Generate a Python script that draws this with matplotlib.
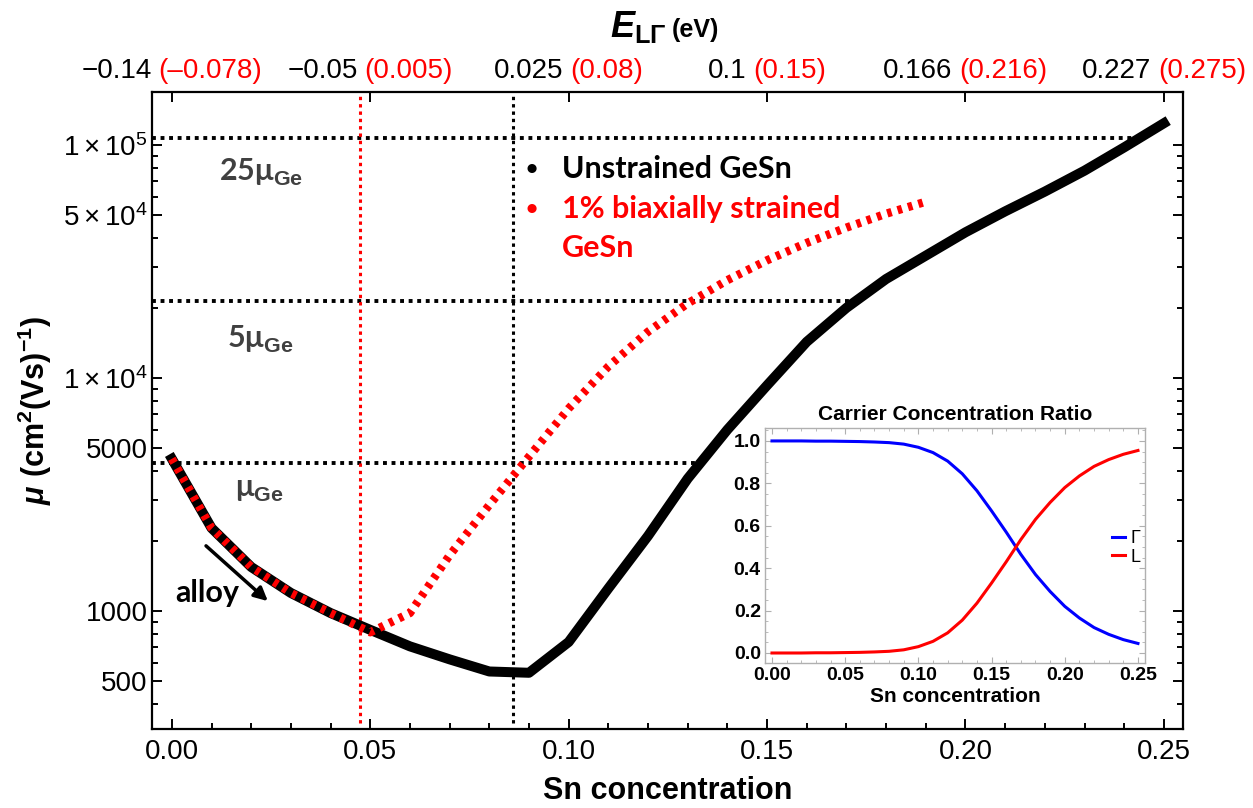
import numpy as np
import matplotlib
matplotlib.use('Agg')
import matplotlib.pyplot as plt
from matplotlib.offsetbox import AnnotationBbox, HPacker, TextArea
from matplotlib.ticker import FixedLocator, LogLocator, NullFormatter, MultipleLocator, FormatStrFormatter

plt.rcParams['font.family'] = ['Liberation Sans', 'DejaVu Sans']
plt.rcParams['mathtext.fontset'] = 'custom'
plt.rcParams['mathtext.rm'] = 'Liberation Sans'
plt.rcParams['mathtext.it'] = 'Liberation Sans:italic:bold'
plt.rcParams['mathtext.bf'] = 'Liberation Sans:bold'

# Sn concentration grid (main curves)
x_sn = [0.00, 0.01, 0.02, 0.03, 0.04, 0.05, 0.06, 0.07, 0.08, 0.09, 0.10, 0.11, 0.12,
        0.13, 0.14, 0.15, 0.16, 0.17, 0.18, 0.19, 0.20, 0.21, 0.22, 0.23, 0.24, 0.25]
# mobility, unstrained GeSn
mu_unstrained = [4500, 2270, 1545, 1195, 980, 830, 705, 620, 550, 543, 736, 1250, 2100,
                 3700, 6000, 9300, 14300, 20000, 26600, 33500, 42200, 51900, 63100, 77600,
                 97700, 124000]
# mobility, 1% biaxially strained GeSn (up to x=0.19)
x_strained = [0.00, 0.01, 0.02, 0.03, 0.04, 0.05, 0.06, 0.07, 0.08, 0.09, 0.10, 0.11, 0.12,
              0.13, 0.14, 0.15, 0.16, 0.17, 0.18, 0.19]
mu_strained = [4500, 2270, 1545, 1195, 980, 810, 980, 1735, 2850, 4600, 7400, 11200, 15800,
               20900, 26300, 32000, 38000, 44200, 50700, 57100]

# reference mobility levels
mu_ge = 4300
level_factors = [1, 5, 25]
level_labels = ['μ$_{\\mathbf{Ge}}$', '5μ$_{\\mathbf{Ge}}$', '25μ$_{\\mathbf{Ge}}$']

# indirect -> direct crossovers
x_cross_unstrained = 0.0859
x_cross_strained = 0.0474

# top axis: E_LGamma at bottom ticks
top_ticks = [0.00, 0.05, 0.10, 0.15, 0.20, 0.25]
e_unstrained = ['−0.14', '−0.05', '0.025', '0.1', '0.166', '0.227']
e_strained = ['(–0.078)', '(0.005)', '(0.08)', '(0.15)', '(0.216)', '(0.275)']

# inset: carrier concentration ratio
gamma_frac = [1.0, 1.0, 1.0, 0.999, 0.999, 0.998, 0.997, 0.995, 0.992, 0.985, 0.97, 0.945,
              0.905, 0.845, 0.765, 0.67, 0.57, 0.465, 0.37, 0.29, 0.22, 0.165, 0.12, 0.088,
              0.063, 0.045]
l_frac = [0.0, 0.0, 0.0, 0.001, 0.001, 0.002, 0.003, 0.005, 0.008, 0.015, 0.03, 0.055, 0.095,
          0.155, 0.235, 0.33, 0.43, 0.535, 0.63, 0.71, 0.78, 0.835, 0.88, 0.912, 0.937, 0.955]

x_sn = np.array(x_sn)
mu_unstrained = np.array(mu_unstrained, dtype=float)

fig = plt.figure(figsize=(12.53, 8.08), dpi=100)
ax = fig.add_axes([0.1213, 0.0978, 0.8228, 0.7884])

ax.set_yscale('log')
ax.set_xlim(-0.005, 0.2548)
ax.set_ylim(311.6, 1.689e5)

# dotted guide lines, ending where they meet the unstrained curve
levels = mu_ge * np.array(level_factors, dtype=float)
x_end = np.interp(np.log10(levels), np.log10(mu_unstrained[9:]), x_sn[9:])
ax.hlines(levels, -0.005, x_end, colors='black', lw=2.8, linestyles=(0, (1.0, 1.2)), zorder=1)
ax.axvline(x_cross_unstrained, ymin=0.01, color='black', lw=2.2, ls=(0, (1.1, 1.3)), zorder=1)
ax.axvline(x_cross_strained, ymin=0.01, color='red', lw=2.2, ls=(0, (1.1, 1.3)), zorder=1)

ax.plot(x_sn, mu_unstrained, color='black', lw=7.2, zorder=3)
ax.plot(x_strained, mu_strained, color='red', lw=6.0, ls=(0, (0.55, 0.75)),
        dash_capstyle='butt', zorder=4)

# axes styling
for sp in ax.spines.values():
    sp.set_linewidth(1.6)
ax.xaxis.set_major_locator(FixedLocator(top_ticks))
ax.xaxis.set_minor_locator(MultipleLocator(0.01))
ax.set_xticklabels(['%.2f' % t for t in top_ticks])
ax.yaxis.set_major_locator(FixedLocator([500, 1000, 5000, 1e4, 5e4, 1e5]))
ax.set_yticklabels(['500', '1000', '5000', r'$1\times10^{4}$', r'$5\times10^{4}$',
                    r'$1\times10^{5}$'])
ax.yaxis.set_minor_locator(LogLocator(base=10, subs=range(2, 10)))
ax.yaxis.set_minor_formatter(NullFormatter())
ax.tick_params(which='both', direction='in', width=1.4, labelsize=20)
ax.tick_params(which='major', length=7, top=True, right=True)
ax.tick_params(which='minor', length=4, right=True, top=False)
ax.tick_params(axis='x', pad=7)
ax.tick_params(axis='y', pad=3)

ax.set_xlabel('Sn concentration', fontsize=22, fontweight='bold', labelpad=8)
ax.set_ylabel(r'$\mu\ \mathbf{(cm^{2}(Vs)^{-1})}$', fontsize=22, labelpad=6)

# two-coloured top labels
for xt, eb, er in zip(top_ticks, e_unstrained, e_strained):
    box = HPacker(children=[TextArea(eb, textprops=dict(color='black', fontsize=20)),
                            TextArea(er, textprops=dict(color='red', fontsize=20))],
                  align='baseline', pad=0, sep=5)
    ab = AnnotationBbox(box, (xt, 1), xycoords=('data', 'axes fraction'), xybox=(0, 6),
                        boxcoords='offset points', box_alignment=(0.5, 0), frameon=False,
                        pad=0, annotation_clip=False)
    ax.add_artist(ab)

fig.text(666 / 1253, 1 - 37 / 808, r'$E_{\mathbf{L\Gamma}}$', fontsize=26, ha='right',
         va='baseline')
fig.text(672 / 1253, 1 - 37 / 808, '(eV)', fontsize=18, fontweight='bold', ha='left',
         va='baseline')

# in-plot annotations
lab_font = dict(family=['Lato', 'DejaVu Sans'], fontweight='bold', fontsize=22)
for lbl, pos in zip(level_labels, [(0.104, 0.375), (0.105, 0.611), (0.106, 0.874)]):
    ax.text(pos[0], pos[1], lbl, transform=ax.transAxes, ha='center', va='center',
            color='#404040', **lab_font)

ax.text(0.054, 0.2135, 'alloy', transform=ax.transAxes, ha='center', va='center',
        color='black', **lab_font)
ax.annotate('', xy=(0.1144, 0.1978), xytext=(0.0504, 0.2904), xycoords='axes fraction',
            arrowprops=dict(arrowstyle='-|>', lw=2.5, color='black', mutation_scale=20))

bullet_font = dict(family=['Lato', 'DejaVu Sans'], fontweight='bold', fontsize=15)
ax.text(0.3686, 0.8791, '•', transform=ax.transAxes, ha='center', va='center',
        color='black', **bullet_font)
ax.text(0.3977, 0.8791, 'Unstrained GeSn', transform=ax.transAxes, ha='left', va='center',
        color='black', **lab_font)
ax.text(0.3686, 0.8163, '•', transform=ax.transAxes, ha='center', va='center',
        color='red', **bullet_font)
ax.text(0.3977, 0.8163, '1% biaxially strained', transform=ax.transAxes, ha='left',
        va='center', color='red', **lab_font)
ax.text(0.3977, 0.7551, 'GeSn', transform=ax.transAxes, ha='left', va='center',
        color='red', **lab_font)

# inset
axi = fig.add_axes([0.6105, 0.1795, 0.3033, 0.2908])
axi.plot(x_sn, gamma_frac, color='blue', lw=2.2, label='Γ')
axi.plot(x_sn, l_frac, color='red', lw=2.2, label='L')
axi.set_xlim(-0.0048, 0.2548)
axi.set_ylim(-0.047, 1.061)
for sp in axi.spines.values():
    sp.set_color('#b0b0b0')
    sp.set_linewidth(1.0)
axi.xaxis.set_major_locator(MultipleLocator(0.05))
axi.xaxis.set_minor_locator(MultipleLocator(0.01))
axi.yaxis.set_major_locator(MultipleLocator(0.2))
axi.yaxis.set_minor_locator(MultipleLocator(0.05))
axi.xaxis.set_major_formatter(FormatStrFormatter('%.2f'))
axi.yaxis.set_major_formatter(FormatStrFormatter('%.1f'))
axi.tick_params(which='both', direction='in', color='#b0b0b0', top=True, right=True,
                labelsize=14, pad=3)
axi.tick_params(which='major', length=4)
axi.tick_params(which='minor', length=2)
for lbl in axi.get_xticklabels() + axi.get_yticklabels():
    lbl.set_fontweight('bold')
axi.set_title('Carrier Concentration Ratio', fontsize=15, fontweight='bold', pad=6)
axi.set_xlabel('Sn concentration', fontsize=15, fontweight='bold', labelpad=2)
axi.legend(loc='center left', bbox_to_anchor=(0.89, 0.49), frameon=False, fontsize=13,
           handlelength=0.7, handletextpad=0.3, labelspacing=0.1, borderpad=0)

fig.savefig('out.png', dpi=100, facecolor='white')
